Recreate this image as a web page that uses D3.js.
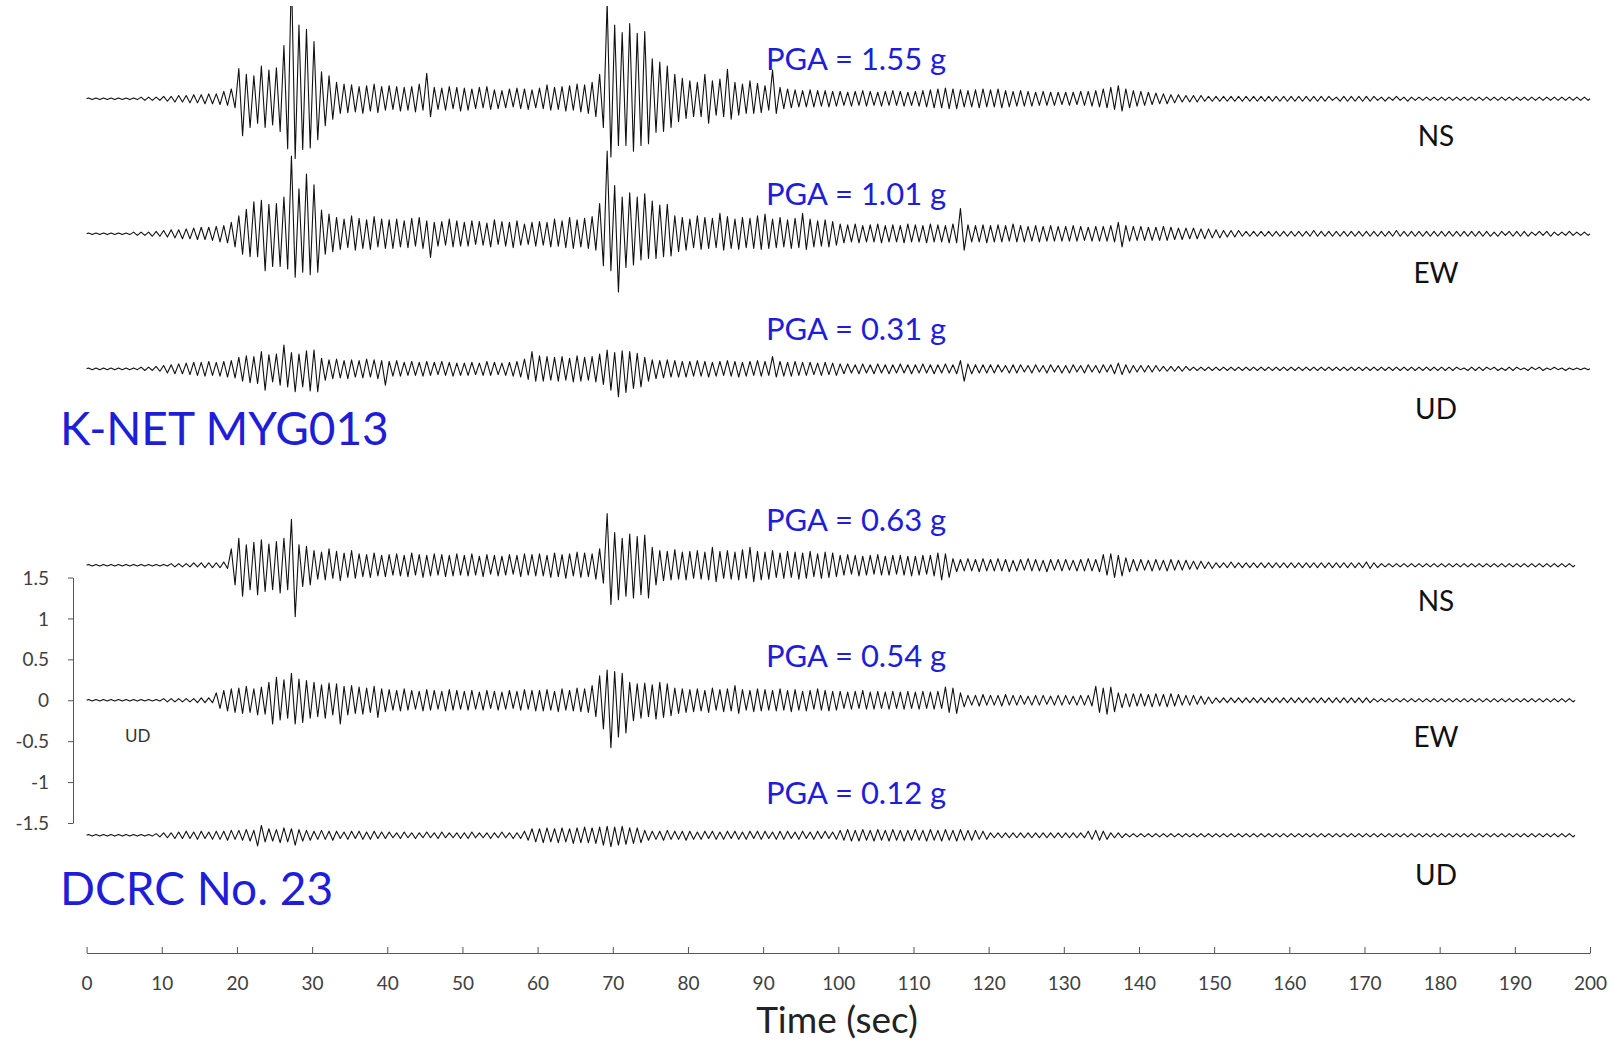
<!DOCTYPE html>
<html>
<head>
<meta charset="utf-8">
<script src="https://cdn.jsdelivr.net/npm/d3@7"></script>
<style>
body { margin: 0; background: #fff; }
text { font-family: Lato, "Open Sans", sans-serif; }
</style>
</head>
<body>
<svg id="chart" width="1617" height="1043"></svg>
<script>
// peak acceleration per 1-second bin, in hundredths of g (up = positive peak, down = negative peak)
var myg013NsUp = [
  1,1,1,1,1,1,1,2,2,2, 3,3,4,4,5,5,6,6,9,12, 37,30,28,40,35,38,65,155,90,85, 70,33,28,20,18,17,15,16,18,15,
  16,15,14,15,18,31,14,13,15,14, 13,12,14,15,11,10,12,13,12,11, 13,17,14,15,16,18,17,20,30,118, 90,81,92,80,82,49,45,40,30,25,
  22,20,30,22,24,36,20,18,22,19, 16,35,14,12,11,10,11,10,10,9, 9,8,9,10,9,8,9,10,9,8, 9,10,11,12,13,12,11,10,11,12,
  11,12,10,9,10,9,8,9,8,8, 8,8,9,9,10,12,14,16,12,10, 9,8,7,6,5,5,4,4,4,3, 3,3,3,3,3,3,3,3,3,3,
  3,3,3,3,3,3,2,3,3,3, 3,3,2,2,3,2,2,2,2,2, 2,2,2,2,2,2,2,2,2,2, 2,2,2,2,2,2,2,2,2,2];
var myg013NsDown = [
  1,1,1,1,1,1,1,2,2,2, 3,4,4,5,5,6,6,7,8,11, 45,35,30,35,32,40,61,73,62,60, 50,33,25,18,17,16,18,15,17,14,
  13,15,14,16,14,22,13,14,12,15, 14,12,11,13,12,11,10,12,13,11, 12,14,13,15,14,16,18,22,35,71, 57,57,64,57,55,41,40,35,28,24,
  22,22,30,20,22,25,20,18,18,17, 14,18,12,11,10,10,10,9,10,9, 8,9,8,9,8,9,8,8,9,8, 9,10,11,11,12,12,10,10,11,10,
  10,11,10,9,9,9,8,8,8,7, 8,7,8,9,10,11,13,15,11,9, 8,7,6,6,5,4,4,4,3,3, 3,3,3,3,3,3,3,3,3,3,
  3,3,3,3,3,2,3,3,3,3, 3,2,3,2,2,3,2,2,2,2, 2,2,2,2,2,2,2,2,2,2, 2,2,2,2,2,2,2,2,2,2];

var myg013EwUp = [
  1,1,1,1,1,1,2,2,2,3, 4,5,5,6,7,8,8,9,10,14, 22,30,39,41,36,37,45,95,55,73, 60,29,24,20,18,22,19,17,21,18,
  17,18,16,19,20,16,14,15,18,16, 14,16,15,13,17,15,14,16,12,14, 15,14,18,16,20,17,19,21,37,101, 59,45,50,45,49,40,35,36,22,20,
  18,22,20,19,25,21,18,20,19,22, 24,18,20,17,19,25,18,16,17,15, 12,11,12,10,11,12,10,11,10,12, 11,10,12,11,10,12,31,11,10,11,
  10,11,10,12,10,9,10,9,10,9, 9,10,9,8,9,9,10,14,10,9, 9,8,8,9,8,7,7,7,6,6, 5,4,4,4,3,3,3,3,3,3,
  3,3,3,4,3,3,3,3,3,3, 3,3,3,3,4,3,3,3,3,3, 3,3,3,3,3,3,3,2,3,3, 3,3,2,3,3,2,2,3,2,2];
var myg013EwDown = [
  1,1,1,1,1,1,2,2,3,3, 4,5,6,6,7,7,8,10,11,16, 25,28,28,45,40,40,43,53,47,50, 47,25,22,19,17,20,18,19,16,18,
  18,16,17,15,18,29,15,14,16,15, 15,13,14,16,13,15,17,14,13,15, 14,16,15,17,18,16,18,20,39,45, 71,41,38,32,30,30,28,27,22,20,
  17,19,18,17,20,18,19,17,18,19, 18,17,16,18,17,19,16,15,16,14, 11,10,11,10,10,11,10,10,11,10, 10,11,10,10,11,11,20,10,10,11,
  10,10,9,10,10,9,10,9,9,9, 9,9,8,9,9,9,10,16,9,8, 8,8,8,8,7,7,6,6,6,5, 5,4,4,3,3,3,3,3,3,3,
  3,3,3,3,3,3,3,3,3,3, 3,3,3,3,3,3,3,3,3,3, 3,3,3,3,3,3,3,3,2,3, 3,3,2,2,3,2,2,2,2,2];

var myg013UdUp = [
  1,1,1,1,1,1,1,2,2,3, 4,5,6,7,8,8,9,8,9,10, 14,16,15,21,17,18,29,20,18,22, 23,13,11,12,10,11,10,12,11,10,
  9,10,8,9,8,9,8,9,8,7, 7,8,7,9,8,7,8,9,12,21, 16,15,14,15,13,16,14,15,18,23, 20,22,21,19,14,11,10,11,10,9,
  9,10,9,8,9,10,9,8,9,10, 9,15,9,8,9,8,8,7,8,7, 6,6,5,6,5,6,5,5,6,5, 5,6,5,5,6,5,10,6,5,5,
  5,5,4,5,5,4,5,4,5,4, 4,5,4,5,4,5,5,7,5,4, 4,4,4,3,3,3,3,2,2,2, 2,2,2,2,2,2,2,2,2,2,
  2,2,2,2,2,2,2,2,2,2, 2,2,2,2,2,2,2,2,2,2, 2,2,2,1,2,2,2,2,1,2, 2,1,2,2,1,2,1,1,1,1];
var myg013UdDown = [
  1,1,1,1,1,1,1,2,2,3, 5,6,6,7,8,9,8,9,10,11, 15,17,18,26,16,20,22,28,22,27, 28,14,12,11,12,10,11,10,12,20,
  9,9,8,8,9,8,7,8,9,8, 8,7,8,8,7,8,9,10,13,15, 15,14,15,14,16,15,14,16,19,26, 34,29,24,22,15,12,11,10,10,10,
  9,9,10,9,8,9,10,9,8,9, 8,10,9,9,8,8,7,8,7,8, 6,5,6,5,6,5,6,5,5,6, 5,5,6,5,5,6,15,6,5,5,
  5,4,5,5,4,5,4,5,4,5, 5,4,5,4,5,4,6,7,5,4, 4,4,3,3,3,3,2,2,2,2, 2,2,2,2,2,2,2,2,2,2,
  2,2,2,2,2,2,2,2,2,2, 2,2,2,2,2,2,2,2,2,2, 2,2,1,2,2,2,1,2,2,2, 1,2,1,2,1,1,2,1,1,1];

var dcrcNsUp = [
  1,1,1,1,1,1,1,1,1,1, 1,2,2,2,3,3,3,3,4,20, 33,25,28,31,26,29,33,56,25,23, 18,16,20,17,15,18,14,13,15,12,
  13,14,12,15,13,12,14,13,12,14, 12,14,11,13,12,11,13,12,14,13, 14,12,15,13,14,16,15,14,20,63, 40,33,38,35,37,22,18,17,19,16,
  17,18,16,22,17,18,16,19,22,17, 16,18,15,17,16,15,17,14,16,15, 12,13,12,11,12,13,11,12,12,11, 11,12,12,15,14,8,7,8,7,8,
  7,8,7,6,7,8,7,6,7,7, 7,6,7,8,7,13,14,12,9,7, 7,6,7,6,7,6,6,5,5,4, 3,3,4,3,3,3,3,3,3,3,
  3,3,3,3,3,3,3,3,3,3, 4,3,2,2,2,2,2,2,2,2, 2,2,2,2,2,2,2,2,2,2, 2,2,2,2,2,2,2,2];
var dcrcNsDown = [
  1,1,1,1,1,1,1,1,1,1, 1,2,2,2,2,3,3,3,4,24, 38,30,36,32,30,34,30,63,26,24, 17,18,16,19,15,16,14,15,13,14,
  12,13,14,12,15,13,12,14,13,12, 13,12,14,11,13,12,11,14,12,13, 13,15,14,16,13,15,14,17,22,48, 42,38,40,36,40,24,19,18,17,18,
  16,17,18,20,16,17,18,16,20,18, 17,15,16,15,17,16,14,16,15,14, 12,11,13,12,11,12,12,11,12,13, 12,11,13,18,15,8,7,7,8,7,
  7,7,8,7,6,7,7,8,6,7, 6,7,7,7,8,12,15,13,8,7, 6,7,6,7,6,6,5,5,4,4, 3,3,3,3,3,3,3,3,3,3,
  3,3,3,3,3,3,3,3,3,3, 4,3,2,2,2,2,2,2,2,2, 2,2,2,2,2,2,2,2,2,2, 2,2,2,2,2,2,2,2];

var dcrcEwUp = [
  1,1,1,1,1,1,1,1,1,1, 2,2,2,2,2,3,3,9,12,14, 15,17,14,16,22,28,25,33,26,24, 22,19,21,20,17,18,16,15,17,14,
  13,12,14,12,11,13,12,11,13,12, 11,12,10,12,11,10,12,11,13,12, 12,13,11,14,12,15,14,18,30,37, 35,33,22,20,21,19,22,20,15,14,
  13,14,12,15,13,14,18,13,12,14, 13,12,14,12,13,11,12,14,12,11, 11,10,11,12,10,11,10,11,10,11, 10,11,10,11,16,15,9,6,6,7,
  6,6,7,6,6,5,6,6,5,6, 6,5,6,6,17,15,16,9,8,8, 8,7,8,7,8,7,6,6,5,4, 3,3,3,3,3,3,3,3,3,3,
  3,3,3,3,3,3,3,3,3,3, 3,2,2,2,2,2,2,2,2,2, 2,2,2,2,2,2,2,2,2,2, 2,2,2,2,2,2,2,2];
var dcrcEwDown = [
  1,1,1,1,1,1,1,1,1,1, 2,2,2,2,3,3,3,10,13,15, 16,15,18,17,29,24,22,29,27,22, 20,22,18,29,18,16,17,15,21,14,
  12,13,12,11,13,12,11,13,12,11, 12,11,12,10,12,11,10,12,11,13, 13,12,14,12,13,14,15,20,35,58, 45,40,25,22,20,23,21,19,16,15,
  14,13,15,12,14,13,16,12,14,13, 12,13,12,14,12,13,11,12,13,12, 10,11,10,11,11,10,11,10,11,10, 11,10,11,10,15,16,8,6,7,6,
  6,7,6,6,5,6,6,5,6,6, 5,6,6,7,15,17,14,9,8,7, 7,8,7,8,7,6,6,5,5,4, 3,3,3,3,3,3,3,3,3,3,
  3,3,3,3,3,3,3,3,3,3, 3,2,2,2,2,2,2,2,2,2, 2,2,2,2,2,2,2,2,2,2, 2,2,2,2,2,2,2,2];

var dcrcUdUp = [
  1,1,1,1,1,1,1,1,1,2, 3,3,4,5,4,5,4,5,5,6, 6,7,6,12,8,7,9,8,7,6, 5,6,5,5,4,5,5,4,5,4,
  4,3,4,3,3,4,3,4,3,3, 3,4,3,3,3,4,3,3,5,8, 8,9,8,9,8,9,10,9,10,11, 10,11,9,9,6,5,5,6,5,5,
  5,4,5,5,4,5,5,4,5,5, 5,4,5,5,4,5,4,5,5,4, 6,7,6,7,6,7,6,7,6,6, 7,6,7,6,7,6,7,6,6,5,
  3,3,3,3,3,3,3,3,3,3, 3,3,3,5,6,5,3,3,2,2, 2,2,2,2,2,2,2,2,2,2, 2,2,2,2,2,2,2,2,2,2,
  2,2,2,2,2,2,2,2,2,2, 2,2,2,2,2,2,2,2,2,2, 2,2,2,2,2,2,2,2,2,2, 2,2,2,2,2,2,2,2];
var dcrcUdDown = [
  1,1,1,1,1,1,1,1,1,2, 3,4,4,4,5,4,5,5,6,5, 6,7,13,8,7,9,8,12,7,6, 5,5,6,4,5,4,5,5,4,4,
  3,4,3,4,3,3,4,3,3,4, 4,3,3,4,3,3,4,4,6,8, 9,8,9,8,10,9,9,10,12,14, 12,11,10,9,6,5,6,5,5,6,
  5,5,4,5,5,4,5,5,4,5, 4,5,5,4,5,4,5,4,4,5, 6,7,7,6,7,6,7,6,7,6, 6,7,6,7,6,7,6,6,5,5,
  3,3,3,3,3,3,3,3,3,3, 3,3,3,5,6,5,3,3,2,2, 2,2,2,2,2,2,2,2,2,2, 2,2,2,2,2,2,2,2,2,2,
  2,2,2,2,2,2,2,2,2,2, 2,2,2,2,2,2,2,2,2,2, 2,2,2,2,2,2,2,2,2,2, 2,2,2,2,2,2,2,2];

var components = ["NS", "EW", "UD", "NS", "EW", "UD"];
var pgaValues = [1.55, 1.01, 0.31, 0.63, 0.54, 0.12];
var stations = ["K-NET MYG013", "DCRC No. 23"];
var xTicks = [0, 10, 20, 30, 40, 50, 60, 70, 80, 90, 100, 110, 120, 130, 140, 150, 160, 170, 180, 190, 200];
var yTicks = [1.5, 1, 0.5, 0, -0.5, -1, -1.5];

var svg = d3.select("#chart");
var blue = "#1e1ed8";

var x = d3.scaleLinear().domain([0, 200]).range([86.6, 1590]);
var y = d3.scaleLinear().domain([-1.5, 1.5]).range([823, 577.5]);

// vertical offset (g) of every trace on the shared y scale
var offsets = [7.35, 5.70, 4.05, 1.65, 0, -1.65];
var series = [
  [myg013NsUp, myg013NsDown], [myg013EwUp, myg013EwDown], [myg013UdUp, myg013UdDown],
  [dcrcNsUp, dcrcNsDown], [dcrcEwUp, dcrcEwDown], [dcrcUdUp, dcrcUdDown]
];

svg.append("clipPath").attr("id", "plotclip")
  .append("rect").attr("x", 0).attr("y", 6).attr("width", 1617).attr("height", 940);

var line = d3.line()
  .x(function (d) { return x(d[0]); })
  .y(function (d) { return y(d[1]); });

var traces = svg.append("g").attr("clip-path", "url(#plotclip)");

series.forEach(function (s, k) {
  var up = s[0], down = s[1], off = offsets[k];
  var pts = [[0, off]];
  up.forEach(function (u, i) {
    pts.push([i + 0.25, off + u / 100]);
    pts.push([i + 0.75, off - down[i] / 100]);
  });
  pts.push([up.length, off]);
  traces.append("path")
    .attr("d", line(pts))
    .attr("fill", "none")
    .attr("stroke", "#111")
    .attr("stroke-width", 1.1)
    .attr("stroke-linejoin", "round");
});

// PGA labels and component names
var pgaY = [70, 205, 340, 531, 667, 804];
var compY = [146, 283, 419, 611, 747, 885];

components.forEach(function (c, k) {
  svg.append("text")
    .attr("x", 766).attr("y", pgaY[k])
    .attr("font-size", 31).attr("fill", blue)
    .text("PGA = " + pgaValues[k].toFixed(2) + " g");
  svg.append("text")
    .attr("x", 1436).attr("y", compY[k])
    .attr("text-anchor", "middle")
    .attr("font-size", 28).attr("fill", "#111")
    .text(c);
});

svg.append("text").attr("x", 60).attr("y", 445)
  .attr("font-size", 46).attr("fill", blue).text(stations[0]);
svg.append("text").attr("x", 60).attr("y", 905)
  .attr("font-size", 46).attr("fill", blue).text(stations[1]);

svg.append("text").attr("x", 125).attr("y", 742)
  .attr("font-size", 17).attr("fill", "#333").text("UD");

// y axis (only the lower-station EW range)
var yAxis = d3.axisLeft(y)
  .tickValues(yTicks)
  .tickFormat(function (d) { return String(d); })
  .tickSize(5)
  .tickSizeOuter(0);

var gy = svg.append("g").attr("transform", "translate(73,0)").call(yAxis);
gy.select(".domain").attr("stroke", "#555");
gy.selectAll(".tick line").attr("stroke", "#555");
gy.selectAll("text")
  .attr("x", -24).attr("dy", "0.35em")
  .attr("font-size", 19).attr("fill", "#404040")
  .attr("font-family", "Lato, sans-serif");

// time axis
var xAxis = d3.axisBottom(x)
  .tickValues(xTicks)
  .tickSize(-6)
  .tickSizeOuter(0);

var gx = svg.append("g").attr("transform", "translate(0,953)").call(xAxis);
gx.select(".domain").attr("stroke", "#555");
gx.selectAll(".tick line").attr("stroke", "#555");
gx.selectAll("text")
  .attr("y", 30).attr("dy", "0.35em")
  .attr("font-size", 19).attr("fill", "#404040")
  .attr("font-family", "Lato, sans-serif");

svg.append("text")
  .attr("x", 837).attr("y", 1033)
  .attr("text-anchor", "middle")
  .attr("font-size", 37).attr("fill", "#222")
  .text("Time (sec)");
</script>
</body>
</html>
